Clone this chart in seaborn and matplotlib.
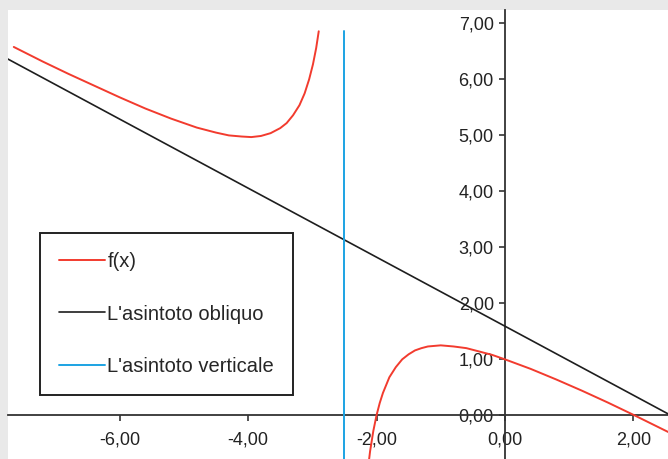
import pandas as pd
import seaborn as sns
import matplotlib.pyplot as plt
from matplotlib.ticker import FuncFormatter, MultipleLocator

# f(x), ramo sinistro (prima dell'asintoto verticale)
x_left = [-7.65, -7.2, -6.8, -6.4, -6.0, -5.6, -5.2, -4.8, -4.5, -4.3, -4.1, -3.95, -3.8,
          -3.65, -3.5, -3.4, -3.3, -3.2, -3.12, -3.05, -2.99, -2.94, -2.9]
y_left = [6.57, 6.31, 6.09, 5.88, 5.67, 5.47, 5.29, 5.13, 5.04, 4.99, 4.97, 4.96, 4.98,
          5.03, 5.12, 5.21, 5.35, 5.53, 5.74, 5.99, 6.26, 6.55, 6.85]

# f(x), ramo destro
x_right = [-2.15, -2.1, -2.05, -2.0, -1.95, -1.9, -1.8, -1.7, -1.6, -1.5, -1.4, -1.3, -1.2,
           -1.1, -1.0, -0.9, -0.8, -0.6, -0.4, -0.2, 0.0, 0.4, 0.8, 1.2, 1.6, 2.0, 2.6]
y_right = [-1.12, -0.65, -0.29, -0.01, 0.21, 0.39, 0.67, 0.85, 0.99, 1.08, 1.15, 1.19, 1.22,
           1.23, 1.24, 1.23, 1.22, 1.19, 1.13, 1.07, 0.99, 0.82, 0.63, 0.43, 0.22, 0.0, -0.34]

# asintoto obliquo
x_obl = [-7.8, 2.6]
y_obl = [6.39, -0.02]

# asintoto verticale
x_vert = [-2.5, -2.5]
y_vert = [-1.0, 6.85]

red = "#f23b2e"
black = "#1e1e1e"
blue = "#1ca3e3"

sns.set_theme(style="white")
plt.rcParams['font.family'] = ['Liberation Sans', 'DejaVu Sans']

fig = plt.figure(figsize=(6.68, 4.59), dpi=100, facecolor="#e9e9e9")
ax = fig.add_axes([8 / 668, 0, 660 / 668, 449 / 459])
ax.set_facecolor("white")

df_l = pd.DataFrame({"x": x_left, "y": y_left})
df_r = pd.DataFrame({"x": x_right, "y": y_right})
df_o = pd.DataFrame({"x": x_obl, "y": y_obl})
df_v = pd.DataFrame({"x": x_vert, "y": y_vert})

common = dict(x="x", y="y", sort=False, estimator=None, ax=ax)
sns.lineplot(data=df_l, color=red, lw=1.4, label="f(x)", **common)
sns.lineplot(data=df_r, color=red, lw=1.4, **common)
sns.lineplot(data=df_o, color=black, lw=1.2, label="L'asintoto obliquo", **common)
sns.lineplot(data=df_v, color=blue, lw=1.4, label="L'asintoto verticale", **common)

ax.set_xlim(-7.74, 2.54)
ax.set_ylim(-0.79, 7.23)
ax.set_xlabel("")
ax.set_ylabel("")

# assi che passano per l'origine, stile Excel
for side in ["top", "right"]:
    ax.spines[side].set_visible(False)
for side in ["left", "bottom"]:
    ax.spines[side].set_position(("data", 0))
    ax.spines[side].set_color("#333333")
    ax.spines[side].set_linewidth(1.3)
    ax.spines[side].set_zorder(1)

ax.xaxis.set_major_locator(MultipleLocator(2))
ax.yaxis.set_major_locator(MultipleLocator(1))
fmt = FuncFormatter(lambda v, p: f"{v:.2f}".replace(".", ","))
ax.xaxis.set_major_formatter(fmt)
ax.yaxis.set_major_formatter(fmt)
ax.tick_params(axis="both", direction="out", length=4, width=1.2, color="#333333",
               labelsize=13, labelcolor="#222222", pad=4)
ax.tick_params(axis="x", bottom=True, pad=8)
ax.tick_params(axis="y", left=True)

leg = ax.legend(loc="upper left", bbox_to_anchor=(0.0485, 0.503), borderaxespad=0,
                fontsize=14.5, frameon=True, fancybox=False, edgecolor="#222222",
                framealpha=1, handlelength=2.3, handletextpad=0.1, labelspacing=1.65,
                borderpad=0.95)
leg.get_frame().set_linewidth(1.4)

fig.savefig("out.png", dpi=100, facecolor=fig.get_facecolor())
